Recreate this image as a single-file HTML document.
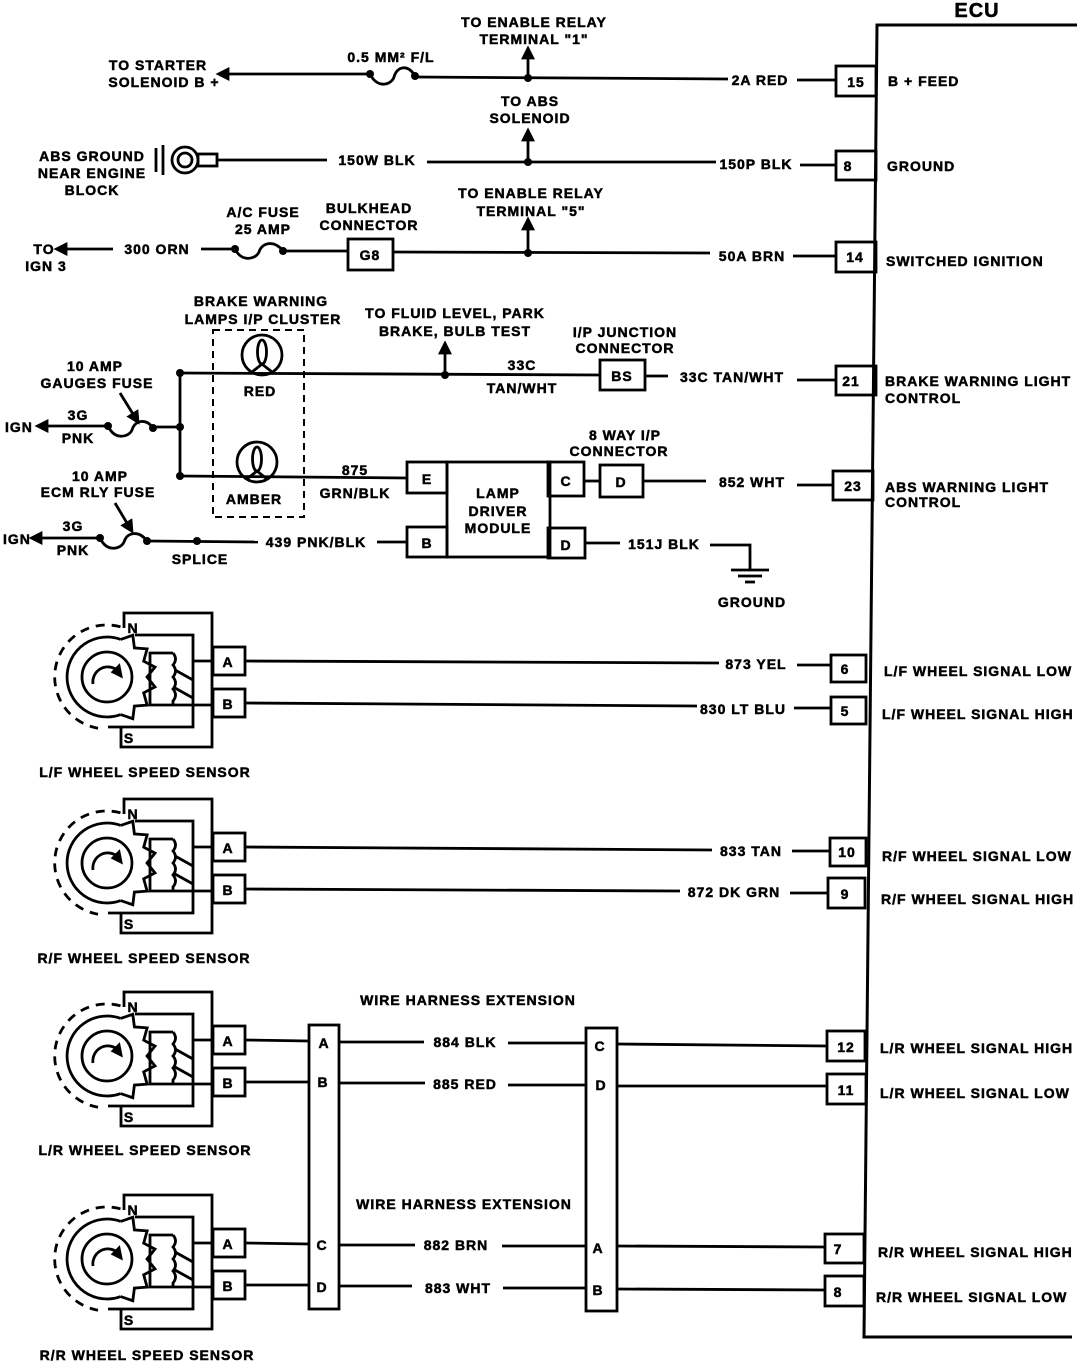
<!DOCTYPE html>
<html><head><meta charset="utf-8"><style>
html,body{margin:0;padding:0;background:#fff;}
svg{display:block;}
text{font-family:"Liberation Sans",sans-serif;font-weight:bold;font-size:14px;letter-spacing:1px;fill:#000;stroke:#000;stroke-width:0.5px;}
.m{text-anchor:middle;}
.e{text-anchor:end;}
</style></head><body>
<svg width="1088" height="1362" viewBox="0 0 1088 1362" xmlns="http://www.w3.org/2000/svg">
<defs>
<marker id="ar" viewBox="0 0 10 10" refX="1" refY="5" markerWidth="5" markerHeight="5" orient="auto-start-reverse"><path d="M0,0 L10,5 L0,10 z" fill="#000"/></marker>
<g id="sensor" fill="none" stroke="#000" stroke-width="2.8">
<polyline points="124,628 124,613 212,613 212,747 121,747 121,727"/>
<polyline points="135,635 193,635 193,727 108,727"/>
<polyline points="173,653 150,653 150,705 213,705"/>
<line x1="193" y1="661" x2="213" y2="661"/>
<path d="M173,653 q5,6 0,12 q5,6 0,12 q5,6 0,12 q5,6 0,12 l0,4"/>
<line x1="175" y1="670" x2="193" y2="680"/>
<line x1="175" y1="688" x2="193" y2="698"/>
<path d="M120.7,714.6 A40,40 0 1 1 120.7,639.4"/>
<polyline points="120.7,639.4 132.8,635.3 134.4,647.9 147.1,648.9 143.7,661.2 155,667.1 147,677 155,686.9 143.7,692.8 147.1,705.1 134.4,706.1 132.8,718.7 120.7,714.6"/>
<circle cx="107" cy="677" r="25"/>
<path d="M120.5,626.8 A52,52 0 1 0 98,728.2" stroke-dasharray="9,7"/>
<path d="M93,684 A15,15 0 0 1 117,670"/>
<path d="M121,676 L113,672 L119,666 z" fill="#000"/>
<rect x="213" y="647" width="32" height="28" fill="#fff"/>
<rect x="213" y="689" width="32" height="28" fill="#fff"/>
</g>
<g id="stxt">
<text x="133" y="633" class="m">N</text>
<text x="129" y="743" class="m">S</text>
<text x="228" y="667" class="m">A</text>
<text x="228" y="709" class="m">B</text>
</g>
</defs>

<!-- ECU -->
<text x="977" y="17" class="m" style="font-size:20px">ECU</text>
<polyline points="1077,25 877,25 864,1337 1072,1337" fill="none" stroke="#000" stroke-width="3"/>

<g fill="none" stroke="#000" stroke-width="2.8">
<line x1="228" y1="74" x2="370" y2="74" marker-start="url(#ar)"/>
<path d="M370,74 C378,90 392,84 394,77 C397,66 408,64 415,76"/>
<line x1="415" y1="77" x2="728" y2="79"/>
<line x1="797" y1="80" x2="836" y2="80"/>
<line x1="528" y1="78" x2="528" y2="58" marker-end="url(#ar)"/>
<rect x="836" y="66" width="40" height="30"/>
<line x1="156" y1="148" x2="156" y2="172"/>
<line x1="163" y1="145" x2="163" y2="175"/>
<circle cx="185" cy="160" r="13"/>
<circle cx="185" cy="160" r="7"/>
<rect x="198" y="154" width="19" height="12"/>
<line x1="217" y1="160" x2="327" y2="160"/>
<line x1="427" y1="162" x2="716" y2="162"/>
<line x1="800" y1="165" x2="836" y2="165"/>
<line x1="528" y1="162" x2="528" y2="140" marker-end="url(#ar)"/>
<rect x="836" y="151" width="40" height="29"/>
<line x1="113" y1="249" x2="66" y2="249" marker-end="url(#ar)"/>
<line x1="201" y1="249" x2="235" y2="249"/>
<path d="M235,249 C242,263 256,259 259,252 C262,242 275,240 283,251"/>
<line x1="283" y1="251" x2="348" y2="251"/>
<rect x="348" y="239" width="45" height="31"/>
<line x1="393" y1="252" x2="710" y2="253"/>
<line x1="793" y1="256" x2="836" y2="256"/>
<line x1="528" y1="253" x2="528" y2="229" marker-end="url(#ar)"/>
<rect x="836" y="242" width="40" height="30"/>
<rect x="213" y="330" width="91" height="187" stroke-dasharray="7,5" stroke-width="2"/>
<line x1="180" y1="373" x2="180" y2="476"/>
<line x1="180" y1="373" x2="600" y2="375"/>
<line x1="180" y1="476" x2="407" y2="478"/>
<line x1="153" y1="427" x2="180" y2="427"/>
<circle cx="262" cy="355" r="20"/>
<ellipse cx="262" cy="352" rx="4.5" ry="12"/>
<path d="M252,372 L262,364 L272,372"/>
<circle cx="257" cy="462" r="20"/>
<ellipse cx="257" cy="459" rx="4.5" ry="12"/>
<path d="M247,479 L257,471 L267,479"/>
<line x1="445" y1="375" x2="445" y2="353" marker-end="url(#ar)"/>
<rect x="600" y="360" width="45" height="30"/>
<line x1="645" y1="376" x2="668" y2="376"/>
<line x1="797" y1="380" x2="836" y2="380"/>
<rect x="836" y="366" width="40" height="29"/>
<line x1="108" y1="426" x2="47" y2="426" marker-end="url(#ar)"/>
<path d="M108,426 C115,441 129,437 132,430 C135,420 146,418 153,428"/>
<line x1="120" y1="393" x2="133" y2="414" marker-end="url(#ar)"/>
<line x1="100" y1="538" x2="41" y2="538" marker-end="url(#ar)"/>
<path d="M100,538 C107,553 121,549 124,542 C127,532 139,530 147,541"/>
<line x1="147" y1="541" x2="258" y2="542"/>
<line x1="115" y1="503" x2="127" y2="523" marker-end="url(#ar)"/>
<line x1="377" y1="542" x2="407" y2="542"/>
<rect x="447" y="462" width="103" height="95"/>
<rect x="407" y="462" width="40" height="31"/>
<rect x="407" y="527" width="40" height="30"/>
<rect x="548" y="462" width="36" height="34"/>
<rect x="548" y="528" width="37" height="30"/>
<line x1="584" y1="481" x2="600" y2="481"/>
<rect x="600" y="465" width="43" height="32"/>
<line x1="643" y1="481" x2="706" y2="481"/>
<line x1="797" y1="485" x2="833" y2="485"/>
<rect x="833" y="471" width="40" height="29"/>
<line x1="585" y1="543" x2="620" y2="543"/>
<polyline points="710,545 750,545 750,570"/>
<line x1="731" y1="570" x2="769" y2="570"/>
<line x1="738" y1="576" x2="762" y2="576"/>
<line x1="745" y1="582" x2="755" y2="582"/>
<line x1="245" y1="661" x2="719" y2="663"/>
<line x1="797" y1="665" x2="831" y2="665"/>
<rect x="831" y="655" width="35" height="27"/>
<line x1="245" y1="703" x2="697" y2="706"/>
<line x1="794" y1="708" x2="831" y2="708"/>
<rect x="831" y="697" width="35" height="27"/>
<line x1="245" y1="847" x2="712" y2="850"/>
<line x1="792" y1="851" x2="830" y2="851"/>
<rect x="830" y="838" width="36" height="28"/>
<line x1="245" y1="889" x2="680" y2="891"/>
<line x1="790" y1="893" x2="828" y2="893"/>
<rect x="828" y="878" width="37" height="30"/>
<rect x="309" y="1025" width="30" height="284"/>
<rect x="586" y="1028" width="31" height="283"/>
<line x1="245" y1="1040" x2="309" y2="1041"/>
<line x1="339" y1="1042" x2="424" y2="1042"/>
<line x1="508" y1="1043" x2="586" y2="1043"/>
<line x1="617" y1="1044" x2="827" y2="1046"/>
<rect x="827" y="1031" width="38" height="30"/>
<line x1="245" y1="1082" x2="309" y2="1082"/>
<line x1="339" y1="1083" x2="425" y2="1083"/>
<line x1="508" y1="1085" x2="586" y2="1085"/>
<line x1="617" y1="1086" x2="827" y2="1086"/>
<rect x="827" y="1074" width="39" height="30"/>
<line x1="245" y1="1243" x2="309" y2="1244"/>
<line x1="339" y1="1245" x2="415" y2="1245"/>
<line x1="502" y1="1246" x2="586" y2="1246"/>
<line x1="617" y1="1246" x2="825" y2="1247"/>
<rect x="825" y="1234" width="39" height="29"/>
<line x1="245" y1="1285" x2="309" y2="1285"/>
<line x1="339" y1="1286" x2="412" y2="1286"/>
<line x1="503" y1="1288" x2="586" y2="1288"/>
<line x1="617" y1="1289" x2="825" y2="1290"/>
<rect x="825" y="1276" width="39" height="30"/>
</g>
<g fill="#000">
<circle cx="370" cy="74" r="4"/><circle cx="415" cy="76" r="4"/>
<circle cx="528" cy="78" r="4"/><circle cx="528" cy="162" r="4"/><circle cx="528" cy="253" r="4"/>
<circle cx="235" cy="249" r="4"/><circle cx="283" cy="251" r="4"/>
<circle cx="180" cy="373" r="4"/><circle cx="180" cy="427" r="4"/><circle cx="180" cy="476" r="4"/>
<circle cx="445" cy="375" r="4"/>
<circle cx="108" cy="426" r="4"/><circle cx="153" cy="428" r="4"/>
<circle cx="100" cy="538" r="4"/><circle cx="147" cy="541" r="4"/><circle cx="197" cy="541" r="4"/>
</g>

<use href="#sensor"/><use href="#stxt"/>
<use href="#sensor" y="186"/><use href="#stxt" y="186"/>
<use href="#sensor" y="379"/><use href="#stxt" y="379"/>
<use href="#sensor" y="582"/><use href="#stxt" y="582"/>

<text x="534" y="27" class="m">TO ENABLE RELAY</text>
<text x="534" y="44" class="m">TERMINAL "1"</text>
<text x="391" y="62" class="m">0.5 MM² F/L</text>
<text x="158" y="70" class="m">TO STARTER</text>
<text x="164" y="87" class="m">SOLENOID B +</text>
<text x="760" y="85" class="m">2A RED</text>
<text x="888" y="86">B + FEED</text>
<text x="856" y="87" class="m">15</text>

<text x="530" y="106" class="m">TO ABS</text>
<text x="530" y="123" class="m">SOLENOID</text>
<text x="92" y="161" class="m">ABS GROUND</text>
<text x="92" y="178" class="m">NEAR ENGINE</text>
<text x="92" y="195" class="m">BLOCK</text>
<text x="377" y="165" class="m">150W BLK</text>
<text x="756" y="169" class="m">150P BLK</text>
<text x="848" y="171" class="m">8</text>
<text x="887" y="171">GROUND</text>

<text x="531" y="198" class="m">TO ENABLE RELAY</text>
<text x="531" y="216" class="m">TERMINAL "5"</text>
<text x="263" y="217" class="m">A/C FUSE</text>
<text x="263" y="234" class="m">25 AMP</text>
<text x="369" y="213" class="m">BULKHEAD</text>
<text x="369" y="230" class="m">CONNECTOR</text>
<text x="44" y="254" class="m">TO</text>
<text x="46" y="271" class="m">IGN 3</text>
<text x="157" y="254" class="m">300 ORN</text>
<text x="370" y="260" class="m">G8</text>
<text x="752" y="261" class="m">50A BRN</text>
<text x="855" y="262" class="m">14</text>
<text x="886" y="266">SWITCHED IGNITION</text>

<text x="261" y="306" class="m">BRAKE WARNING</text>
<text x="263" y="324" class="m">LAMPS I/P CLUSTER</text>
<text x="455" y="318" class="m">TO FLUID LEVEL, PARK</text>
<text x="455" y="336" class="m">BRAKE, BULB TEST</text>
<text x="625" y="337" class="m">I/P JUNCTION</text>
<text x="625" y="353" class="m">CONNECTOR</text>
<text x="95" y="371" class="m">10 AMP</text>
<text x="97" y="388" class="m">GAUGES FUSE</text>
<text x="260" y="396" class="m">RED</text>
<text x="522" y="370" class="m">33C</text>
<text x="522" y="393" class="m">TAN/WHT</text>
<text x="622" y="381" class="m">BS</text>
<text x="732" y="382" class="m">33C TAN/WHT</text>
<text x="851" y="386" class="m">21</text>
<text x="885" y="386">BRAKE WARNING LIGHT</text>
<text x="885" y="403">CONTROL</text>
<text x="5" y="432">IGN</text>
<text x="78" y="420" class="m">3G</text>
<text x="78" y="443" class="m">PNK</text>
<text x="254" y="504" class="m">AMBER</text>
<text x="355" y="475" class="m">875</text>
<text x="355" y="498" class="m">GRN/BLK</text>
<text x="100" y="481" class="m">10 AMP</text>
<text x="98" y="497" class="m">ECM RLY FUSE</text>
<text x="3" y="544">IGN</text>
<text x="73" y="531" class="m">3G</text>
<text x="73" y="555" class="m">PNK</text>
<text x="200" y="564" class="m">SPLICE</text>
<text x="316" y="547" class="m">439 PNK/BLK</text>
<text x="427" y="484" class="m">E</text>
<text x="427" y="548" class="m">B</text>
<text x="566" y="486" class="m">C</text>
<text x="566" y="550" class="m">D</text>
<text x="498" y="498" class="m">LAMP</text>
<text x="498" y="516" class="m">DRIVER</text>
<text x="498" y="533" class="m">MODULE</text>
<text x="625" y="440" class="m">8 WAY I/P</text>
<text x="619" y="456" class="m">CONNECTOR</text>
<text x="621" y="487" class="m">D</text>
<text x="752" y="487" class="m">852 WHT</text>
<text x="853" y="491" class="m">23</text>
<text x="885" y="492">ABS WARNING LIGHT</text>
<text x="885" y="507">CONTROL</text>
<text x="664" y="549" class="m">151J BLK</text>
<text x="752" y="607" class="m">GROUND</text>

<text x="756" y="669" class="m">873 YEL</text>
<text x="845" y="674" class="m">6</text>
<text x="884" y="676">L/F WHEEL SIGNAL LOW</text>
<text x="743" y="714" class="m">830 LT BLU</text>
<text x="845" y="716" class="m">5</text>
<text x="882" y="719">L/F WHEEL SIGNAL HIGH</text>
<text x="145" y="777" class="m">L/F WHEEL SPEED SENSOR</text>

<text x="751" y="856" class="m">833 TAN</text>
<text x="847" y="857" class="m">10</text>
<text x="882" y="861">R/F WHEEL SIGNAL LOW</text>
<text x="734" y="897" class="m">872 DK GRN</text>
<text x="845" y="899" class="m">9</text>
<text x="881" y="904">R/F WHEEL SIGNAL HIGH</text>
<text x="144" y="963" class="m">R/F WHEEL SPEED SENSOR</text>

<text x="468" y="1005" class="m">WIRE HARNESS EXTENSION</text>
<text x="465" y="1047" class="m">884 BLK</text>
<text x="465" y="1089" class="m">885 RED</text>
<text x="324" y="1048" class="m">A</text>
<text x="323" y="1087" class="m">B</text>
<text x="600" y="1051" class="m">C</text>
<text x="601" y="1090" class="m">D</text>
<text x="846" y="1052" class="m">12</text>
<text x="846" y="1095" class="m">11</text>
<text x="880" y="1053">L/R WHEEL SIGNAL HIGH</text>
<text x="880" y="1098">L/R WHEEL SIGNAL LOW</text>
<text x="145" y="1155" class="m">L/R WHEEL SPEED SENSOR</text>

<text x="464" y="1209" class="m">WIRE HARNESS EXTENSION</text>
<text x="456" y="1250" class="m">882 BRN</text>
<text x="458" y="1293" class="m">883 WHT</text>
<text x="322" y="1250" class="m">C</text>
<text x="322" y="1292" class="m">D</text>
<text x="598" y="1253" class="m">A</text>
<text x="598" y="1295" class="m">B</text>
<text x="838" y="1254" class="m">7</text>
<text x="838" y="1297" class="m">8</text>
<text x="878" y="1257">R/R WHEEL SIGNAL HIGH</text>
<text x="876" y="1302">R/R WHEEL SIGNAL LOW</text>
<text x="147" y="1360" class="m">R/R WHEEL SPEED SENSOR</text>
</svg>
</body></html>
